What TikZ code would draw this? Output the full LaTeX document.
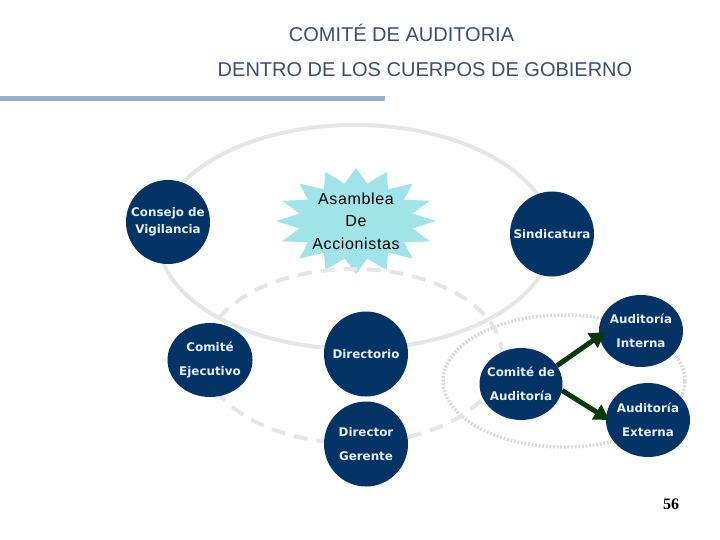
\documentclass[tikz,border=0pt]{standalone}
\usepackage{fontspec}
\setmainfont{Liberation Sans}
\newfontfamily\circfont{DejaVu Sans}
\newfontfamily\starfont[LetterSpace=4]{Liberation Sans}
\newfontfamily\numfont{Liberation Serif}
\usetikzlibrary{shapes.geometric,arrows.meta}
\definecolor{navy}{RGB}{4,51,102}
\definecolor{ctext}{RGB}{228,238,252}
\definecolor{ringgray}{RGB}{230,230,230}
\definecolor{dotgray}{RGB}{218,218,218}
\definecolor{starcyan}{RGB}{160,228,232}
\definecolor{arrowgreen}{RGB}{6,58,12}
\definecolor{titleblue}{RGB}{58,78,110}
\definecolor{barblue}{RGB}{152,176,204}
\tikzset{
  unit/.style={ellipse, fill=navy, text=ctext, align=center, inner sep=-30pt,
    font=\circfont\bfseries\fontsize{11.9}{24.5}\selectfont},
  ring/.style={draw=ringgray, line width=4pt},
  dashring/.style={draw=ringgray, line width=4pt, dash pattern=on 14pt off 9pt},
  dotring/.style={draw=dotgray, line width=3.5pt, dash pattern=on 2pt off 1.6pt},
  arr/.style={draw=arrowgreen, line width=5pt, -{Triangle[length=15pt,width=17pt]}},
  titletext/.style={anchor=base, text=titleblue, font=\fontsize{20}{24}\selectfont}
}
\begin{document}
\begin{tikzpicture}[x=1pt,y=-1pt]
\useasboundingbox (0,0) rectangle (720,540);
% title
\node[titletext] (t1) at (401.5,42) {COMITÉ DE AUDITORIA};
\node[titletext] (t2) at (425,77) {DENTRO DE LOS CUERPOS DE GOBIERNO};
\fill[barblue] (0,96.5) rectangle (385,101.5);
% rings
\draw[ring] (355,237) ellipse [x radius=197pt, y radius=112pt];
\draw[dotring] (564,381) ellipse [x radius=121pt, y radius=66pt];
% star
\fill[starcyan] plot[samples at={0,...,31}, variable=\k]
  ({356+80*cos(\k*11.25)*(1-0.28*mod(\k,2))}, {221-53*sin(\k*11.25)*(1-0.28*mod(\k,2))}) -- cycle;
\draw[dashring] (353,356) ellipse [x radius=149pt, y radius=87pt];
\node[font=\starfont\fontsize{16}{22.5}\selectfont, align=center] (asamblea) at (356,221) {Asamblea\\De\\Accionistas};
% units
\node[unit, minimum width=84pt, minimum height=84pt, font=\circfont\bfseries\fontsize{11.9}{17}\selectfont] (consejo) at (168,222) {Consejo de\\Vigilancia};
\node[unit, minimum width=84pt, minimum height=85pt] (sind) at (552,234) {Sindicatura};
\node[unit, minimum width=85pt, minimum height=74pt] (ejec) at (210,360) {Comité\\Ejecutivo};
\node[unit, minimum width=84pt, minimum height=85pt] (dir) at (366,354) {Directorio};
\node[unit, minimum width=84pt, minimum height=85pt] (ger) at (366,444) {Director\\Gerente};
\node[unit, minimum width=83pt, minimum height=72pt] (cda) at (521,384) {Comité de\\Auditoría};
\node[unit, minimum width=84pt, minimum height=72pt] (ai) at (641,331) {Auditoría\\Interna};
\node[unit, minimum width=84pt, minimum height=74pt] (ae) at (648,420) {Auditoría\\Externa};
% arrows
\draw[arr, shorten >=-7pt] (cda.27) -- (ai.187);
\draw[arr, shorten >=-4pt] (cda.-9) -- (ae.177);
% page number
\node[anchor=base, font=\numfont\bfseries\fontsize{16}{18}\selectfont] (num) at (671,509) {56};
\end{tikzpicture}
\end{document}
